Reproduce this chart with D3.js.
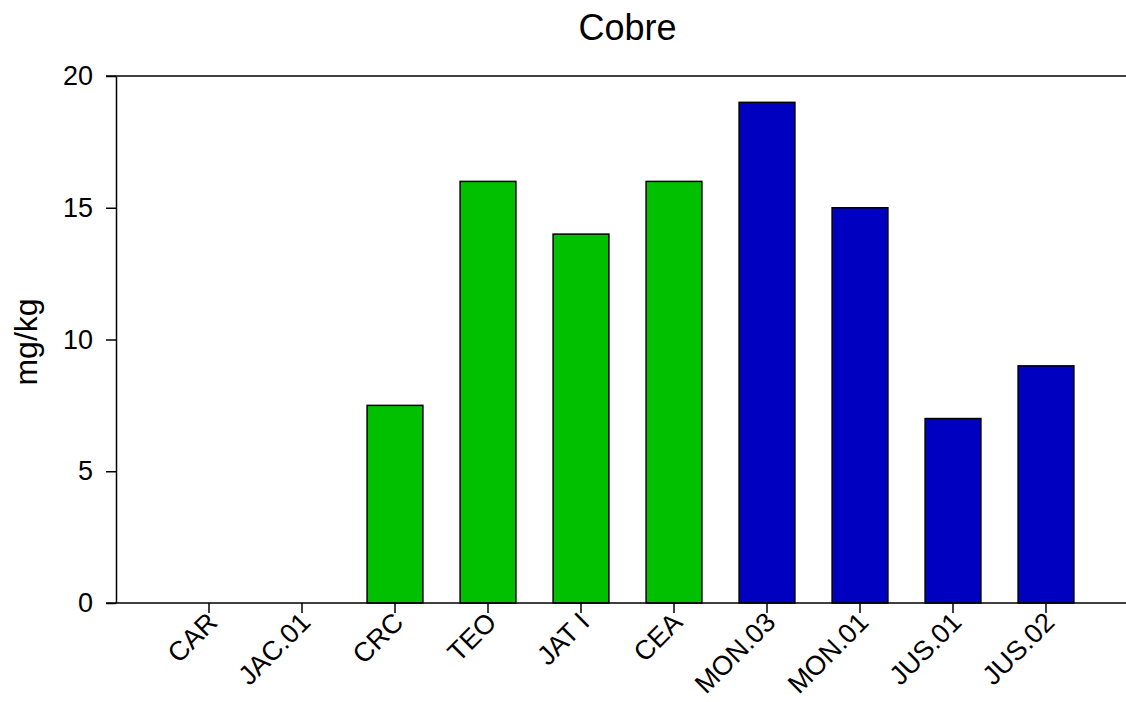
<!DOCTYPE html>
<html>
<head>
<meta charset="utf-8">
<script src="https://cdn.jsdelivr.net/npm/d3@7"></script>
<style>
  html, body { margin: 0; padding: 0; background: #fff; }
  svg { display: block; font-family: "Liberation Sans", Arial, sans-serif; }
</style>
</head>
<body>
<svg id="chart" width="1126" height="702"></svg>
<script>
// Copper content per sampling site
const categories = ["CAR", "JAC.01", "CRC", "TEO", "JAT I", "CEA", "MON.03", "MON.01", "JUS.01", "JUS.02"];
const values = [0, 0, 7.5, 16, 14, 16, 19, 15, 7, 9];
const groups = ["g", "g", "g", "g", "g", "g", "b", "b", "b", "b"];
const yTicks = [0, 5, 10, 15, 20];
const groupColors = { g: "#00c000", b: "#0000c0" };

const svg = d3.select("#chart");
const plotLeft = 116, plotRight = 1126, plotTop = 76, plotBottom = 603;
const font = "'Liberation Sans', Arial, sans-serif";

const x = d3.scaleBand()
  .domain(categories)
  .range([162.5, 1092.5])
  .paddingInner(0.4)
  .paddingOuter(0.2);

const y = d3.scaleLinear().domain([0, 20]).range([plotBottom, plotTop]);

// Bars
svg.append("g")
  .selectAll("rect")
  .data(categories.map((c, i) => ({ c, v: values[i], g: groups[i] })).filter(d => d.v > 0))
  .join("rect")
  .attr("x", d => x(d.c))
  .attr("y", d => y(d.v))
  .attr("width", x.bandwidth())
  .attr("height", d => y(0) - y(d.v))
  .attr("fill", d => groupColors[d.g])
  .attr("stroke", "#000")
  .attr("stroke-width", 1.5);

// Left axis
const yAxis = svg.append("g")
  .attr("transform", `translate(${plotLeft},0)`)
  .call(d3.axisLeft(y).tickValues(yTicks).tickSize(10).tickSizeOuter(0).tickPadding(13));
yAxis.select(".domain").attr("stroke-width", 1.5);
yAxis.selectAll(".tick line").attr("stroke-width", 1.5);
yAxis.selectAll(".tick text").attr("font-size", 27).attr("fill", "#000")
  .attr("font-family", font);

// Bottom axis
const xAxis = svg.append("g")
  .attr("transform", `translate(0,${plotBottom})`)
  .call(d3.axisBottom(x).tickSize(10).tickSizeOuter(0));
xAxis.select(".domain").remove();
xAxis.selectAll(".tick line").attr("stroke-width", 1.5);
xAxis.selectAll(".tick text")
  .attr("font-size", 27)
  .attr("fill", "#000")
  .attr("font-family", font)
  .attr("text-anchor", "end")
  .attr("dy", 0)
  .attr("transform", "translate(10,21) rotate(-45)")
  .attr("y", 0)
  .attr("x", 0);

// Baseline and top frame line
svg.append("line")
  .attr("x1", plotLeft - 10).attr("x2", plotRight)
  .attr("y1", plotBottom).attr("y2", plotBottom)
  .attr("stroke", "#000").attr("stroke-width", 1.5);
svg.append("line")
  .attr("x1", plotLeft - 10).attr("x2", plotRight)
  .attr("y1", plotTop).attr("y2", plotTop)
  .attr("stroke", "#000").attr("stroke-width", 1.5);

// Title
svg.append("text")
  .attr("x", 627.5)
  .attr("y", 40)
  .attr("text-anchor", "middle")
  .attr("font-size", 36)
  .attr("font-family", font)
  .text("Cobre");

// Y axis title
svg.append("text")
  .attr("transform", `translate(37,342) rotate(-90)`)
  .attr("text-anchor", "middle")
  .attr("font-size", 32)
  .attr("font-family", font)
  .text("mg/kg");
</script>
</body>
</html>
